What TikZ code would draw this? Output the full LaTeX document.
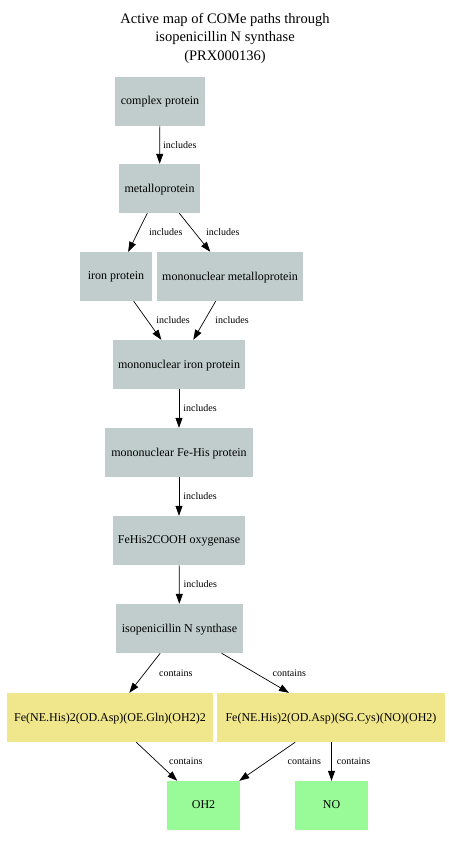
\documentclass[tikz,border=0pt]{standalone}
\usepackage{fontspec}
\setmainfont{Liberation Serif}
\usetikzlibrary{arrows.meta,positioning}
\definecolor{classbox}{HTML}{C1CDCD}
\definecolor{sitebox}{HTML}{F0E68C}
\definecolor{ligbox}{HTML}{98FB98}
\tikzset{
  base/.style={inner sep=2pt, minimum height=49pt, font=\fontsize{12}{14}\selectfont, text=black, text depth=1pt},
  cls/.style={base, fill=classbox},
  site/.style={base, fill=sitebox},
  lig/.style={base, fill=ligbox},
  arr/.style={-{Triangle[length=10pt,width=7pt]}, line width=0.7pt, draw=black},
  lab/.style={font=\fontsize{10}{12}\selectfont, anchor=west, inner sep=0pt},
}

\begin{document}
\begin{tikzpicture}[x=1pt,y=-1pt]
    \useasboundingbox (0,0) rectangle (449,846);
    \node[font=\fontsize{14.5}{18.5}\selectfont, align=center] (title) at (225,38)
      {Active map of COMe paths through\\isopenicillin N synthase\\(PRX000136)};
    % protein classes
    \node[cls, minimum width=90pt] (cplx) at (160,101) {complex protein};
    \node[cls, minimum width=81pt] (metal) at (159.5,188.5) {metalloprotein};
    \node[cls, minimum width=72pt] (iron) at (116,276.5) {iron protein};
    \node[cls, minimum width=146pt] (mnmetal) at (230,276.5) {mononuclear metalloprotein};
    \node[cls, minimum width=132pt] (mniron) at (179,364.5) {mononuclear iron protein};
    \node[cls, minimum width=148pt] (mnfehis) at (179,452.5) {mononuclear Fe-His protein};
    \node[cls, minimum width=132pt] (oxy) at (179,540.5) {FeHis2COOH oxygenase};
    \node[cls, minimum width=127pt] (ipns) at (179.5,628.5) {isopenicillin N synthase};
    % sites
    \node[site, minimum width=206pt] (siteA) at (110,717.5) {Fe(NE.His)2(OD.Asp)(OE.Gln)(OH2)2};
    \node[site, minimum width=228pt] (siteB) at (331,717.5) {Fe(NE.His)2(OD.Asp)(SG.Cys)(NO)(OH2)};
    % ligands
    \node[lig, minimum width=73pt] (oh) at (203.5,805.5) {OH2};
    \node[lig, minimum width=73pt] (no) at (331.5,805.5) {NO};

    \draw[arr] (cplx) -- node[lab, xshift=3pt] {includes} (metal);
    \draw[arr] (metal) -- node[lab, xshift=11pt] {includes} (iron);
    \draw[arr] (metal) -- node[lab, xshift=11pt] {includes} (mnmetal);
    \draw[arr] (iron) -- node[lab, xshift=8.5pt] {includes} (mniron);
    \draw[arr] (mnmetal) -- node[lab, xshift=10.5pt] {includes} (mniron);
    \draw[arr] (mniron) -- node[lab, xshift=4pt] {includes} (mnfehis);
    \draw[arr] (mnfehis) -- node[lab, xshift=4pt] {includes} (oxy);
    \draw[arr] (oxy) -- node[lab, xshift=4pt] {includes} (ipns);
    \draw[arr] (ipns) -- node[lab, xshift=14pt] {contains} (siteA);
    \draw[arr] (ipns) -- node[lab, xshift=17pt] {contains} (siteB);
    \draw[arr] (siteA) -- node[lab, xshift=12pt] {contains} (oh);
    \draw[arr] (siteB) -- node[lab, xshift=20pt] {contains} (oh);
    \draw[arr] (siteB.south -| no) -- node[lab, xshift=5pt] {contains} (no);
\end{tikzpicture}
\end{document}
